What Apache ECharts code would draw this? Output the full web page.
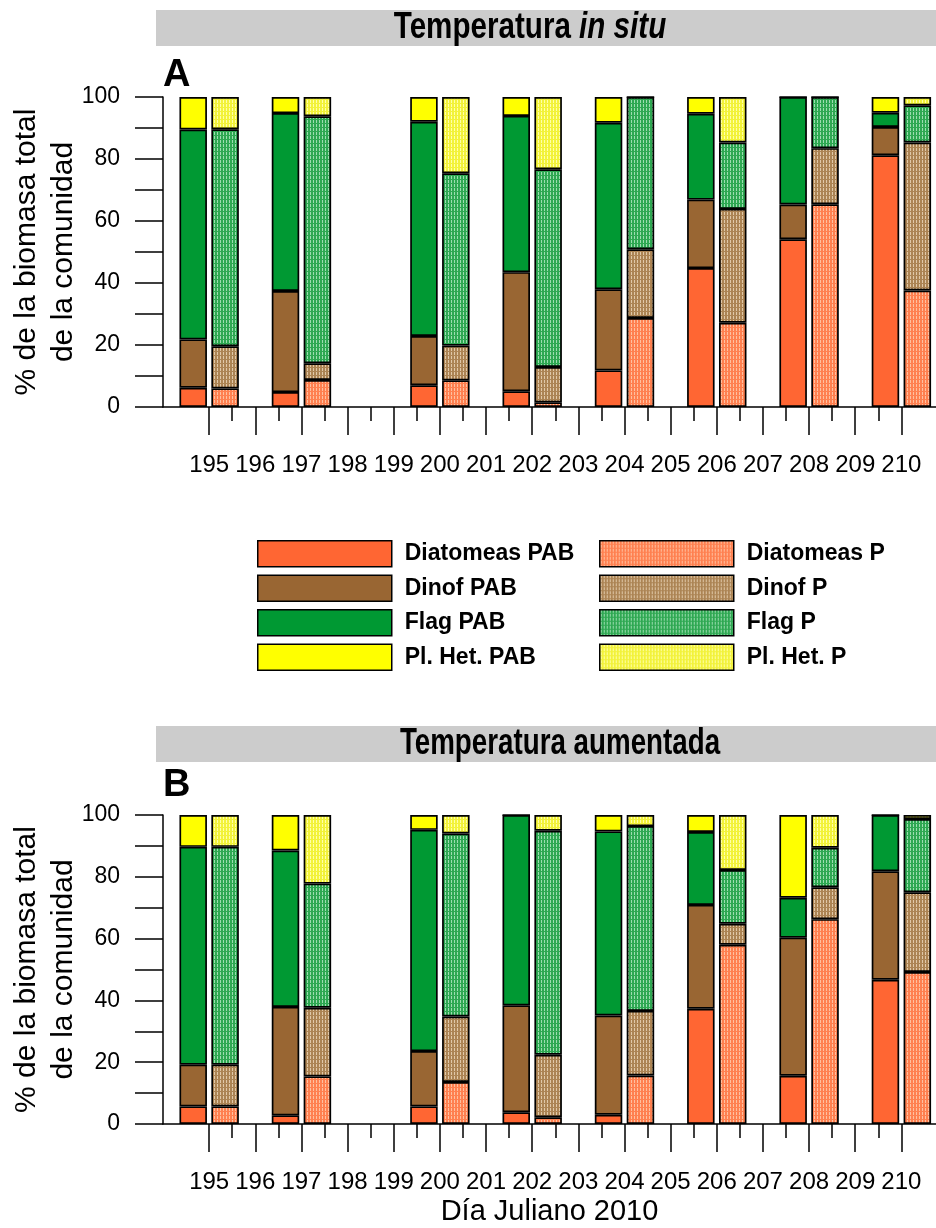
<!DOCTYPE html>
<html><head><meta charset="utf-8">
<script src="https://cdn.jsdelivr.net/npm/echarts@6/dist/echarts.min.js"></script>
<style>html,body{margin:0;padding:0;background:#fff}#c{width:936px;height:1228px}</style>
</head><body><div id="c"></div>
<script>
// ---- data ----
const days = [195, 197, 200, 202, 204, 206, 208, 210];
const tickDays = [195,196,197,198,199,200,201,202,203,204,205,206,207,208,209,210];
const minorTickDays = [195.5,196.5,197.5,198.5,199.5,200.5,201.5,202.5,203.5,204.5,205.5,206.5,207.5,208.5,209.5];
const seriesNamesPAB = ['Diatomeas PAB', 'Dinof PAB', 'Flag PAB', 'Pl. Het. PAB'];
const seriesNamesP = ['Diatomeas P', 'Dinof P', 'Flag P', 'Pl. Het. P'];
// Panel A: Temperatura in situ
const A_diatPAB = [6.2, 4.8, 7.0, 5.1, 11.8, 44.8, 54.1, 81.2];
const A_dinoPAB = [15.6, 32.6, 15.9, 38.4, 26.2, 22.1, 11.2, 9.1];
const A_flagPAB = [67.7, 57.4, 69.1, 50.4, 53.7, 27.7, 34.7, 4.6];
const A_hetPAB  = [10.5, 5.2, 8.0, 6.1, 8.3, 5.4, 0, 5.1];
const A_diatP = [6.0, 8.7, 8.6, 1.5, 28.7, 27.2, 65.4, 37.6];
const A_dinoP = [13.6, 5.4, 11.2, 11.4, 22.2, 36.7, 18.1, 47.7];
const A_flagP = [70.0, 79.7, 55.6, 63.8, 49.1, 21.4, 16.5, 12.0];
const A_hetP  = [10.4, 6.2, 24.6, 23.3, 0, 14.7, 0, 2.7];
// Panel B: Temperatura aumentada
const B_diatPAB = [5.7, 2.8, 5.7, 3.8, 3.0, 37.3, 15.6, 46.7];
const B_dinoPAB = [13.5, 35.1, 17.9, 34.6, 32.1, 33.6, 44.7, 35.1];
const B_flagPAB = [70.5, 50.6, 71.6, 61.6, 59.6, 23.6, 12.9, 18.2];
const B_hetPAB  = [10.3, 11.5, 4.8, 0, 5.3, 5.5, 26.8, 0];
const B_diatP = [5.7, 15.4, 13.6, 2.2, 15.7, 58.0, 66.3, 49.2];
const B_dinoP = [13.5, 22.2, 21.2, 20.2, 20.9, 6.8, 10.3, 25.8];
const B_flagP = [70.5, 40.2, 59.2, 72.5, 59.8, 17.4, 12.8, 23.7];
const B_hetP  = [10.3, 22.2, 6.0, 5.1, 3.6, 17.8, 10.6, 1.3];

// ---- styles ----
function pat(base, light) {
  const c = document.createElement('canvas'); c.width = 3; c.height = 4;
  const g = c.getContext('2d');
  g.fillStyle = base; g.fillRect(0, 0, 3, 4);
  g.fillStyle = light; g.fillRect(1, 0, 1, 3);
  return { image: c, repeat: 'repeat' };
}
const colPAB = ['#FF6633', '#996633', '#009933', '#FFFF00'];
const colP = [pat('#FF8050', '#FFC0A0'), pat('#AC8454', '#E0C8A8'), pat('#2EA852', '#9CDDB0'), pat('#F2F23A', '#FFFFA8')];
const SANS = '"Liberation Sans", Arial, sans-serif';

const chart = echarts.init(document.getElementById('c'), null, { renderer: 'canvas' });

const grids = [
  { left: 163, top: 97, width: 773, height: 310, outerBoundsMode: 'none', containLabel: false },
  { left: 163, top: 815, width: 773, height: 309, outerBoundsMode: 'none', containLabel: false }
];
const xAxes = [], yAxes = [];
grids.forEach((g, i) => {
  xAxes.push({
    type: 'value', gridIndex: i, min: 194, max: 210.75, position: 'bottom',
    axisLine: { show: true, onZero: false, lineStyle: { color: '#000', width: 1.5 } },
    axisTick: { show: true, customValues: tickDays, length: 28, lineStyle: { color: '#000', width: 1.5 } },
    axisLabel: { customValues: tickDays, margin: 46, fontSize: 24, fontFamily: SANS, color: '#000',
                 showMinLabel: true, showMaxLabel: true, hideOverlap: false },
    splitLine: { show: false },
    name: i === 1 ? 'Día Juliano 2010' : '', nameLocation: 'middle', nameGap: 73, nameMoveOverlap: false,
    nameTextStyle: { fontSize: 29, fontFamily: SANS, color: '#000' }
  });
  xAxes.push({
    type: 'value', gridIndex: i, min: 194, max: 210.75, position: 'bottom', offset: 0,
    axisLine: { show: false },
    axisTick: { show: true, customValues: minorTickDays, length: 14, lineStyle: { color: '#000', width: 1.5 } },
    axisLabel: { show: false }, splitLine: { show: false }
  });
  yAxes.push({
    type: 'value', gridIndex: i, min: 0, max: 100, interval: 20,
    axisLine: { show: true, lineStyle: { color: '#000', width: 1.5 } },
    axisTick: { show: true, length: 28, lineStyle: { color: '#000', width: 1.5 } },
    minorTick: { show: true, splitNumber: 2, length: 28, lineStyle: { color: '#000', width: 1.5 } },
    splitLine: { show: false }, minorSplitLine: { show: false },
    axisLabel: { margin: 43, fontSize: 23, fontFamily: SANS, color: '#000' },
    name: '% de la biomasa total\nde la comunidad', nameLocation: 'middle', nameRotate: 90, nameGap: 81, nameMoveOverlap: false,
    nameTextStyle: { fontSize: 30, lineHeight: 37, fontFamily: SANS, color: '#000', align: 'center' }
  });
});

const panels = [
  { pab: [A_diatPAB, A_dinoPAB, A_flagPAB, A_hetPAB], p: [A_diatP, A_dinoP, A_flagP, A_hetP] },
  { pab: [B_diatPAB, B_dinoPAB, B_flagPAB, B_hetPAB], p: [B_diatP, B_dinoP, B_flagP, B_hetP] }
];
const series = [];
panels.forEach((pn, i) => {
  // value first, day second: so the stacked dimension is the y value, not the day
  const mk = (name, vals, color, stack) => ({
    type: 'bar', name, xAxisIndex: i * 2, yAxisIndex: i, stack: stack + i,
    data: days.map((d, k) => [vals[k], d]),
    encode: { x: 1, y: 0 },
    barWidth: 27.5, barGap: '16%',
    itemStyle: { color, borderColor: '#000', borderWidth: 1.7 },
    emphasis: { disabled: true }
  });
  pn.pab.forEach((v, k) => series.push(mk(seriesNamesPAB[k], v, colPAB[k], 'PAB')));
  pn.p.forEach((v, k) => series.push(mk(seriesNamesP[k], v, colP[k], 'P')));
});

const legendCommon = {
  orient: 'vertical', itemWidth: 134, itemHeight: 26, itemGap: 7, icon: 'rect', selectedMode: false, padding: 0,
  itemStyle: { borderColor: '#000', borderWidth: 1.5 },
  textStyle: { fontSize: 23, fontWeight: 'bold', fontFamily: SANS, color: '#000', padding: [0, 0, 0, 8] }
};

chart.setOption({
  animation: false,
  backgroundColor: '#fff',
  grid: grids,
  xAxis: xAxes,
  yAxis: yAxes,
  legend: [
    Object.assign({ left: 257, top: 540, data: seriesNamesPAB }, legendCommon),
    Object.assign({ left: 599, top: 540, data: seriesNamesP }, legendCommon)
  ],
  graphic: [
    { type: 'rect', shape: { x: 156, y: 10, width: 780, height: 36 }, style: { fill: '#CCCCCC' }, silent: true },
    { type: 'text', x: 530, y: 28, scaleX: 0.8, style: { text: '{n|Temperatura }{i|in situ}', align: 'center', verticalAlign: 'middle',
        rich: { n: { fontSize: 37, fontWeight: 'bold', fontFamily: SANS, fill: '#000' },
                i: { fontSize: 37, fontWeight: 'bold', fontStyle: 'italic', fontFamily: SANS, fill: '#000' } } } },
    { type: 'text', x: 163, y: 76, style: { text: 'A', fontSize: 38, fontWeight: 'bold', fontFamily: SANS, fill: '#000', verticalAlign: 'middle' } },
    { type: 'rect', shape: { x: 156, y: 726, width: 780, height: 36 }, style: { fill: '#CCCCCC' }, silent: true },
    { type: 'text', x: 560, y: 744, scaleX: 0.75, style: { text: 'Temperatura aumentada', align: 'center', verticalAlign: 'middle',
        fontSize: 37, fontWeight: 'bold', fontFamily: SANS, fill: '#000' } },
    { type: 'text', x: 163, y: 786, style: { text: 'B', fontSize: 38, fontWeight: 'bold', fontFamily: SANS, fill: '#000', verticalAlign: 'middle' } }
  ],
  series
});
</script>
</body></html>
